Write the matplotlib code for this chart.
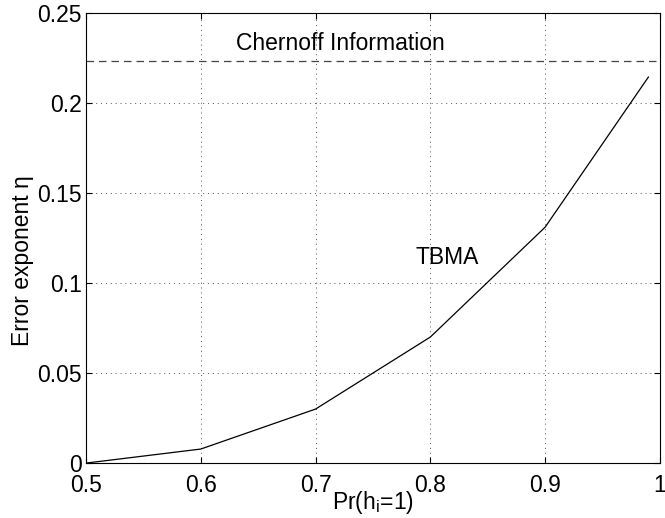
import matplotlib
matplotlib.use("Agg")
import matplotlib.pyplot as plt

prob = [0.5, 0.6, 0.7, 0.8, 0.9, 0.99]
exponent = [0.0, 0.0078, 0.030, 0.070, 0.131, 0.2144]
chernoff = 0.2233
xticks = [0.5, 0.6, 0.7, 0.8, 0.9, 1.0]
xticklabels = ["0.5", "0.6", "0.7", "0.8", "0.9", "1"]
yticks = [0, 0.05, 0.1, 0.15, 0.2, 0.25]
yticklabels = ["0", "0.05", "0.1", "0.15", "0.2", "0.25"]

plt.rcParams['font.family'] = ['Liberation Sans', 'DejaVu Sans']
fs = 16.5
fig = plt.figure(figsize=(6.65, 5.18), dpi=100)
ax = fig.add_axes([0.1293, 0.106, 0.863, 0.869])

ax.plot(prob, exponent, color='black', lw=0.9)
ax.axhline(chernoff, color='#444444', lw=0.9, ls=(0, (6, 4)))
ax.text(0.722, chernoff + 0.0095, "Chernoff Information", fontsize=fs, ha='center', va='center')
ax.text(0.815, 0.114, "TBMA", fontsize=fs, ha='center', va='center')

ax.set_xlim(0.5, 1.0)
ax.set_ylim(0, 0.25)
ax.set_xticks(xticks)
ax.set_xticklabels(xticklabels)
ax.set_yticks(yticks)
ax.set_yticklabels(yticklabels)
ax.tick_params(direction='in', top=True, right=True, labelsize=fs, length=4, width=0.8)
ax.tick_params(axis='x', pad=8)
ax.tick_params(axis='y', pad=3)
ax.grid(True, ls=(0, (1, 4)), color='#555555', lw=0.7)
for s in ax.spines.values():
    s.set_linewidth(0.8)
ax.set_xlabel("Pr(h$_\\mathregular{i}$=1)", fontsize=fs, labelpad=-6)
ax.set_ylabel("Error exponent \u03b7", fontsize=fs, labelpad=2)
ax.yaxis.label.set_y(0.449)

fig.savefig("out.png", dpi=100)
